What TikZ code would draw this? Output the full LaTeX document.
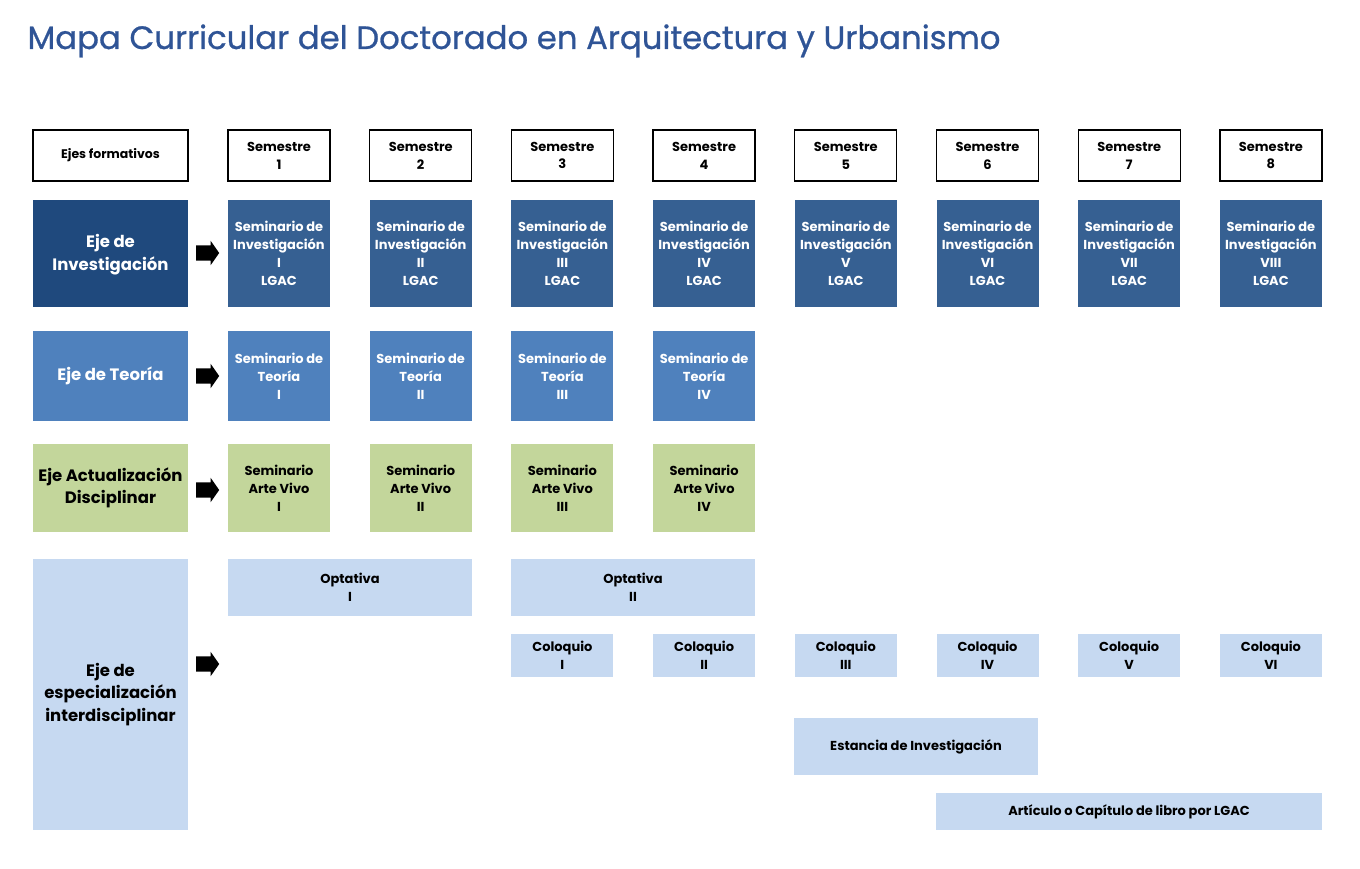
\documentclass[tikz,border=0pt]{standalone}
\usepackage{fontspec}
\setmainfont{Poppins}
\newfontfamily\titlefont{Poppins}[FakeBold=0.8]
\usetikzlibrary{positioning, shapes.arrows}
\definecolor{titulo}{HTML}{2F5496}
\definecolor{invosc}{HTML}{1F497D}
\definecolor{invmed}{HTML}{366092}
\definecolor{teoria}{HTML}{4F81BD}
\definecolor{actual}{HTML}{C3D69B}
\definecolor{espec}{HTML}{C6D9F1}
\tikzset{celda/.style={rectangle,inner sep=0pt,align=center,font=\bfseries\fontsize{13}{17.8}\selectfont},
  cabecera/.style={celda,draw=black,line width=1.3pt,fill=white,minimum width=102pt,minimum height=51pt},
  semi/.style={celda,minimum width=102pt},
  eje/.style={celda,minimum width=155pt,font=\bfseries\fontsize{16.5}{22.5}\selectfont},
  flecha/.style={single arrow,fill=black,inner sep=7.5pt,minimum height=23pt,single arrow head extend=4.5pt,single arrow tip angle=110}}

\begin{document}
\begin{tikzpicture}[x=1pt,y=-1pt]
\useasboundingbox (0,0) rectangle (1360,869);
\node[anchor=base west,text=titulo,font=\titlefont\fontsize{32.3}{38}\selectfont] (titulo) at (24,49) {Mapa Curricular del Doctorado en Arquitectura y Urbanismo};

% ejes formativos
\node[cabecera,minimum width=155pt,font=\bfseries\fontsize{12.5}{15}\selectfont] (ejes) at (110.5,155.5) {Ejes formativos};
\node[eje,fill=invosc,text=white,minimum height=107pt,text depth=2pt] (ejeinv) at (110.5,253.5) {Eje de\\Investigación};
\node[eje,fill=teoria,text=white,minimum height=90pt] (ejeteo) at (110.5,376) {Eje de Teoría};
\node[eje,fill=actual,minimum height=88pt] (ejeact) at (110.5,488) {Eje Actualización\\Disciplinar};
\node[eje,fill=espec,minimum height=271pt] (ejeesp) at (110.5,694.5) {Eje de\\especialización\\interdisciplinar};

\node[flecha] (fl1) at (205,253) {};
\node[flecha] (fl2) at (205,376) {};
\node[flecha] (fl3) at (205,490) {};
\node[flecha] (fl4) at (205,664) {};

% semestres
\foreach \i/\r in {1/I,2/II,3/III,4/IV,5/V,6/VI,7/VII,8/VIII}{
  \node[cabecera] (sem\i) at ({279+141.7*(\i-1)},155.5) {Semestre\\\i};
  \node[semi,fill=invmed,text=white,minimum height=107pt] (inv\i) at (sem\i |- ejeinv) {Seminario de\\Investigación\\\r\\LGAC};
}
\foreach \i/\r in {1/I,2/II,3/III,4/IV}{
  \node[semi,fill=teoria,text=white,minimum height=90pt] (teo\i) at (sem\i |- ejeteo) {Seminario de\\Teoría\\\r};
  \node[semi,fill=actual,minimum height=88pt] (act\i) at (sem\i |- ejeact) {Seminario\\Arte Vivo\\\r};
}
\foreach \i/\r in {3/I,4/II,5/III,6/IV,7/V,8/VI}{
  \node[semi,fill=espec,minimum height=43pt] (col\i) at ({279+141.7*(\i-1)},655.5) {Coloquio\\\r};
}

\node[semi,fill=espec,minimum width=244pt,minimum height=57pt] (opt1) at (350,587.5) {Optativa\\I};
\node[semi,fill=espec,minimum width=244pt,minimum height=57pt] (opt2) at (633,587.5) {Optativa\\II};
\node[semi,fill=espec,minimum width=244pt,minimum height=57pt] (estancia) at (916,746.5) {Estancia de Investigación};
\node[semi,fill=espec,minimum width=386pt,minimum height=37pt] (articulo) at (1129,811.5) {Artículo o Capítulo de libro por LGAC};
\end{tikzpicture}
\end{document}
